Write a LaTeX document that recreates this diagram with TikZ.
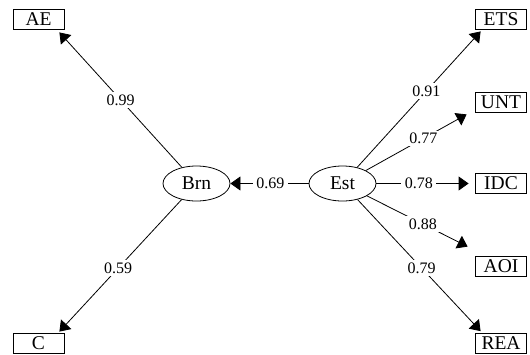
\documentclass[tikz,border=0pt]{standalone}
\usepackage{fontspec}
\setmainfont{Liberation Serif}
\usetikzlibrary{arrows.meta,shapes.geometric}
\begin{document}
\begin{tikzpicture}[x=1pt,y=-1pt,
  obs/.style={draw, line width=0.8pt, minimum width=51pt, minimum height=20pt, inner sep=0pt, font=\fontsize{19.5}{20}\selectfont},
  lat/.style={draw, ellipse, line width=0.8pt, minimum width=67pt, minimum height=35pt, inner sep=0pt, font=\fontsize{19.5}{20}\selectfont},
  conn/.style={line width=0.8pt, -{Triangle[length=10pt,width=14pt]}},
  lbl/.style={fill=white, inner xsep=3.5pt, inner ysep=2.5pt, font=\fontsize{16}{17}\selectfont}
]
\useasboundingbox (0,0) rectangle (530,354);
\node[obs] (ae) at (38.5,19.5) {AE};
\node[obs] (c) at (38.5,343.5) {C};
\node[obs] (ets) at (501,19) {ETS};
\node[obs] (unt) at (501,102) {UNT};
\node[obs] (idc) at (501,183.5) {IDC};
\node[obs] (aoi) at (501,266) {AOI};
\node[obs] (rea) at (501,343.5) {REA};
\node[lat] (brn) at (196.5,183.5) {Brn};
\node[lat] (est) at (342.5,183.5) {Est};
\draw[conn] (est) -- node[lbl,pos=0.49]{0.69} (brn);
\draw[conn] (brn) -- node[lbl,pos=0.5]{0.99} ([shift={(-5,2.5)}]ae.south east);
\draw[conn] (brn) -- node[lbl,pos=0.52]{0.59} ([shift={(-5,-1.5)}]c.north east);
\draw[conn] (est) -- node[lbl,pos=0.56]{0.91} ([shift={(5.5,2)}]ets.south west);
\draw[conn] (est) -- node[lbl,pos=0.57]{0.77} ([shift={(-8.5,2)}]unt.south west);
\draw[conn] (est) -- node[lbl,pos=0.46]{0.78} ([shift={(-6.5,0)}]idc.west);
\draw[conn] (est) -- node[lbl,pos=0.556]{0.88} ([shift={(-7.5,-9)}]aoi.north west);
\draw[conn] (est) -- node[lbl,pos=0.52]{0.79} ([shift={(5.5,-2)}]rea.north west);
\end{tikzpicture}
\end{document}
